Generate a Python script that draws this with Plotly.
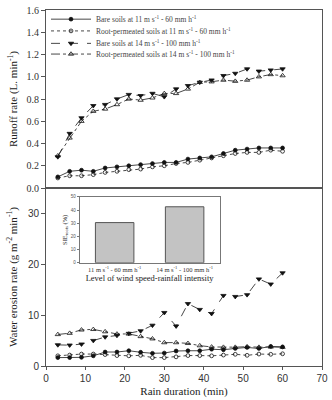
import plotly.graph_objects as go

duration = [3, 6, 9, 12, 15, 18, 21, 24, 27, 30, 33, 36, 39, 42, 45, 48, 51, 54, 57, 60]

runoff_bare_11 = [0.10, 0.15, 0.16, 0.15, 0.18, 0.19, 0.20, 0.21, 0.22, 0.23, 0.23, 0.26, 0.27, 0.28, 0.31, 0.34, 0.35, 0.36, 0.36, 0.36]
runoff_root_11 = [0.09, 0.11, 0.11, 0.12, 0.14, 0.15, 0.165, 0.17, 0.19, 0.20, 0.22, 0.23, 0.25, 0.27, 0.29, 0.31, 0.32, 0.32, 0.34, 0.33]
runoff_bare_14 = [0.28, 0.49, 0.63, 0.74, 0.75, 0.80, 0.84, 0.83, 0.85, 0.82, 0.89, 0.92, 0.95, 0.97, 1.01, 1.03, 1.07, 1.05, 1.06, 1.07]
runoff_root_14 = [0.29, 0.45, 0.60, 0.69, 0.71, 0.75, 0.80, 0.79, 0.81, 0.85, 0.85, 0.89, 0.95, 0.955, 0.97, 0.96, 0.97, 1.00, 1.02, 1.01]

erosion_bare_11 = [1.65, 1.65, 1.7, 2.0, 2.75, 2.75, 3.0, 2.7, 2.5, 2.55, 2.95, 3.0, 3.0, 3.3, 3.2, 3.45, 3.65, 3.45, 3.85, 3.75]
erosion_root_11 = [2.0, 2.15, 2.35, 2.35, 2.25, 2.05, 2.0, 2.1, 1.65, 1.65, 1.8, 2.05, 2.05, 2.0, 2.15, 2.3, 2.1, 2.35, 2.3, 2.4]
erosion_bare_14 = [4.15, 4.1, 4.3, 5.0, 5.7, 6.0, 6.4, 6.9, 8.0, 10.5, 7.85, 12.25, 11.1, 10.3, 13.85, 13.65, 14.0, 17.1, 16.1, 18.3]
erosion_root_14 = [6.2, 6.45, 7.1, 7.2, 6.75, 6.3, 6.3, 5.8, 5.35, 4.6, 4.6, 4.45, 4.0, 3.75, 3.7, 3.7, 3.8, 3.7, 3.75, 3.7]

series_names = [
    "Bare soils at 11 m s<sup>-1</sup> - 60 mm h<sup>-1</sup>",
    "Root-permeated soils at 11 m s<sup>-1</sup> - 60 mm h<sup>-1</sup>",
    "Bare soils at 14 m s<sup>-1</sup> - 100 mm h<sup>-1</sup>",
    "Root-permeated soils at 14 m s<sup>-1</sup> - 100 mm h<sup>-1</sup>",
]

inset_levels = ["11 m s<sup>-1</sup> - 60 mm h<sup>-1</sup>", "14 m s<sup>-1</sup> - 100 mm h<sup>-1</sup>"]
inset_sie = [30.5, 42.5]

SERIF = "Liberation Serif, Times New Roman, serif"
SANS = "Liberation Sans, Arial, sans-serif"
AX = "#555555"

styles = [
    dict(dash="solid", symbol="circle", size=3.8),
    dict(dash="dot", symbol="circle-open", size=3.8),
    dict(dash="dash", symbol="triangle-down", size=4.6),
    dict(dash="dashdot", symbol="triangle-up-open", size=4.6),
]
legend_ids = ["legend", "legend2", "legend3", "legend4"]
# legend row tops, as a fraction of the plot area height
legend_rows = [1.015, 0.982, 0.947, 0.917]

fig = go.Figure()
runoff = [runoff_bare_11, runoff_root_11, runoff_bare_14, runoff_root_14]
erosion = [erosion_bare_11, erosion_root_11, erosion_bare_14, erosion_root_14]

def add_series(xs, ys, name, st, xa, ya, show, leg):
    fig.add_trace(go.Scatter(
        x=xs, y=ys, name=name, mode="lines+markers",
        line=dict(color="#333333", width=0.9, dash=st["dash"]),
        marker=dict(symbol=st["symbol"], size=st["size"], color="#111111",
                    line=dict(color="#111111", width=0.8)),
        xaxis=xa, yaxis=ya, showlegend=show, legend=leg,
    ))

for name, ys, st, leg in zip(series_names, runoff, styles, legend_ids):
    add_series(duration, ys, name, st, "x", "y", True, leg)
for name, ys, st, leg in zip(series_names, erosion, styles, legend_ids):
    add_series(duration, ys, name, st, "x2", "y2", False, leg)

fig.add_trace(go.Bar(
    x=inset_levels, y=inset_sie, width=0.55,
    marker=dict(color="#c3c3c3", line=dict(color="#555555", width=1)),
    xaxis="x3", yaxis="y3", showlegend=False,
))

legend_style = dict(x=0.0, xanchor="left", yanchor="top",
                    font=dict(family=SERIF, size=7.5, color="#444444"),
                    bgcolor="rgba(0,0,0,0)", borderwidth=0, tracegroupgap=0, itemwidth=40)
legends = {lid: dict(legend_style, y=yy) for lid, yy in zip(legend_ids, legend_rows)}

fig.update_layout(
    width=332, height=400,
    margin=dict(l=46, r=8, t=4, b=30),
    paper_bgcolor="white", plot_bgcolor="white",
    font=dict(family=SERIF, color="#222222"),
    **legends,
    xaxis=dict(domain=[0, 1], range=[0, 70], anchor="y", showticklabels=False, ticks="",
               showline=True, linecolor=AX, mirror=True, showgrid=False, zeroline=False),
    yaxis=dict(domain=[0.5, 1], range=[0, 1.6], dtick=0.2, tickformat=".1f", anchor="x",
               ticks="outside", ticklen=4, tickcolor=AX,
               showline=True, linecolor=AX, mirror=True, showgrid=False, zeroline=False,
               tickfont=dict(family=SERIF, size=10, color="#333333"),
               title=dict(text="Runoff rate (L. min<sup>-1</sup>)", font=dict(family=SERIF, size=11), standoff=6)),
    xaxis2=dict(domain=[0, 1], range=[0, 70], dtick=10, anchor="y2",
                ticks="outside", ticklen=3, tickcolor=AX,
                showline=True, linecolor=AX, mirror=True, showgrid=False, zeroline=False,
                tickfont=dict(family=SANS, size=10, color="#333333"),
                title=dict(text="Rain duration (min)", font=dict(family=SERIF, size=11), standoff=4)),
    yaxis2=dict(domain=[0, 0.5], range=[0, 35], tickvals=[0, 10, 20, 30], anchor="x2",
                ticks="outside", ticklen=4, tickcolor=AX,
                showline=True, linecolor=AX, mirror=True, showgrid=False, zeroline=False,
                tickfont=dict(family=SANS, size=10, color="#333333"),
                title=dict(text="Water erosion rate (g m<sup>-2</sup> min<sup>-1</sup>)", font=dict(family=SERIF, size=11), standoff=8)),
    xaxis3=dict(domain=[0.122, 0.629], anchor="y3", ticks="", showline=True, linecolor="#777777",
                mirror=True, showgrid=False, zeroline=False,
                tickfont=dict(family=SERIF, size=6.5, color="#333333"),
                title=dict(text="Level of wind speed-rainfall intensity", font=dict(family=SERIF, size=8.5), standoff=2)),
    yaxis3=dict(domain=[0.290, 0.475], anchor="x3", range=[0, 50], dtick=10,
                ticks="outside", ticklen=2, tickcolor="#777777",
                showline=True, linecolor="#777777", mirror=True, showgrid=False, zeroline=False,
                tickfont=dict(family=SANS, size=4.5, color="#555555"),
                title=dict(text="SIE<sub>roots</sub> (%)", font=dict(family=SERIF, size=6.5), standoff=2)),
)

fig.write_html("out.html", config={"displayModeBar": False},
               post_script="document.body.style.margin='0';document.body.style.overflow='hidden';")
